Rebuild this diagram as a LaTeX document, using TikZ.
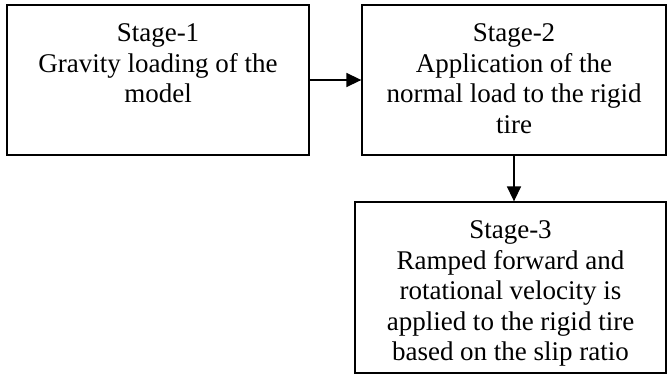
\documentclass[tikz,border=0pt]{standalone}
\usepackage{fontspec}
\setmainfont{Liberation Serif}
\usetikzlibrary{arrows.meta}

\tikzset{
  stagebox/.style={draw, line width=1.3pt, rectangle, inner xsep=0pt, inner ysep=19pt, font=\fontsize{27pt}{30.5pt}\selectfont},
  flow/.style={line width=1.5pt, -{Triangle[length=15pt,width=14pt]}}
}

\begin{document}
\begin{tikzpicture}[x=1pt,y=-1pt]
% Parameters
\def\textW{295pt}
\def\boxH{150}
\def\lastH{171}

\useasboundingbox (0,0) rectangle (667,376);

% Stages
\node[stagebox, minimum width=302pt, minimum height=\boxH pt] (stage1) at (158,80)
  {\parbox[t][112pt][t]{\textW}{\centering Stage-1\\Gravity loading of the\\model}};
\node[stagebox, minimum width=304pt, minimum height=\boxH pt] (stage2) at (514,80)
  {\parbox[t][112pt][t]{\textW}{\centering Stage-2\\Application of the\\normal load to the rigid\\tire}};
\node[stagebox, minimum width=311pt, minimum height=\lastH pt] (stage3) at (510.5,287.5)
  {\parbox[t][133pt][t]{305pt}{\centering Stage-3\\Ramped forward and\\rotational velocity is\\applied to the rigid tire\\based on the slip ratio}};

% Connectors
\draw[flow] (stage1.east) -- (stage2.west);
\draw[flow] (stage2.south) -- (stage2.south |- stage3.north);

\end{tikzpicture}
\end{document}
